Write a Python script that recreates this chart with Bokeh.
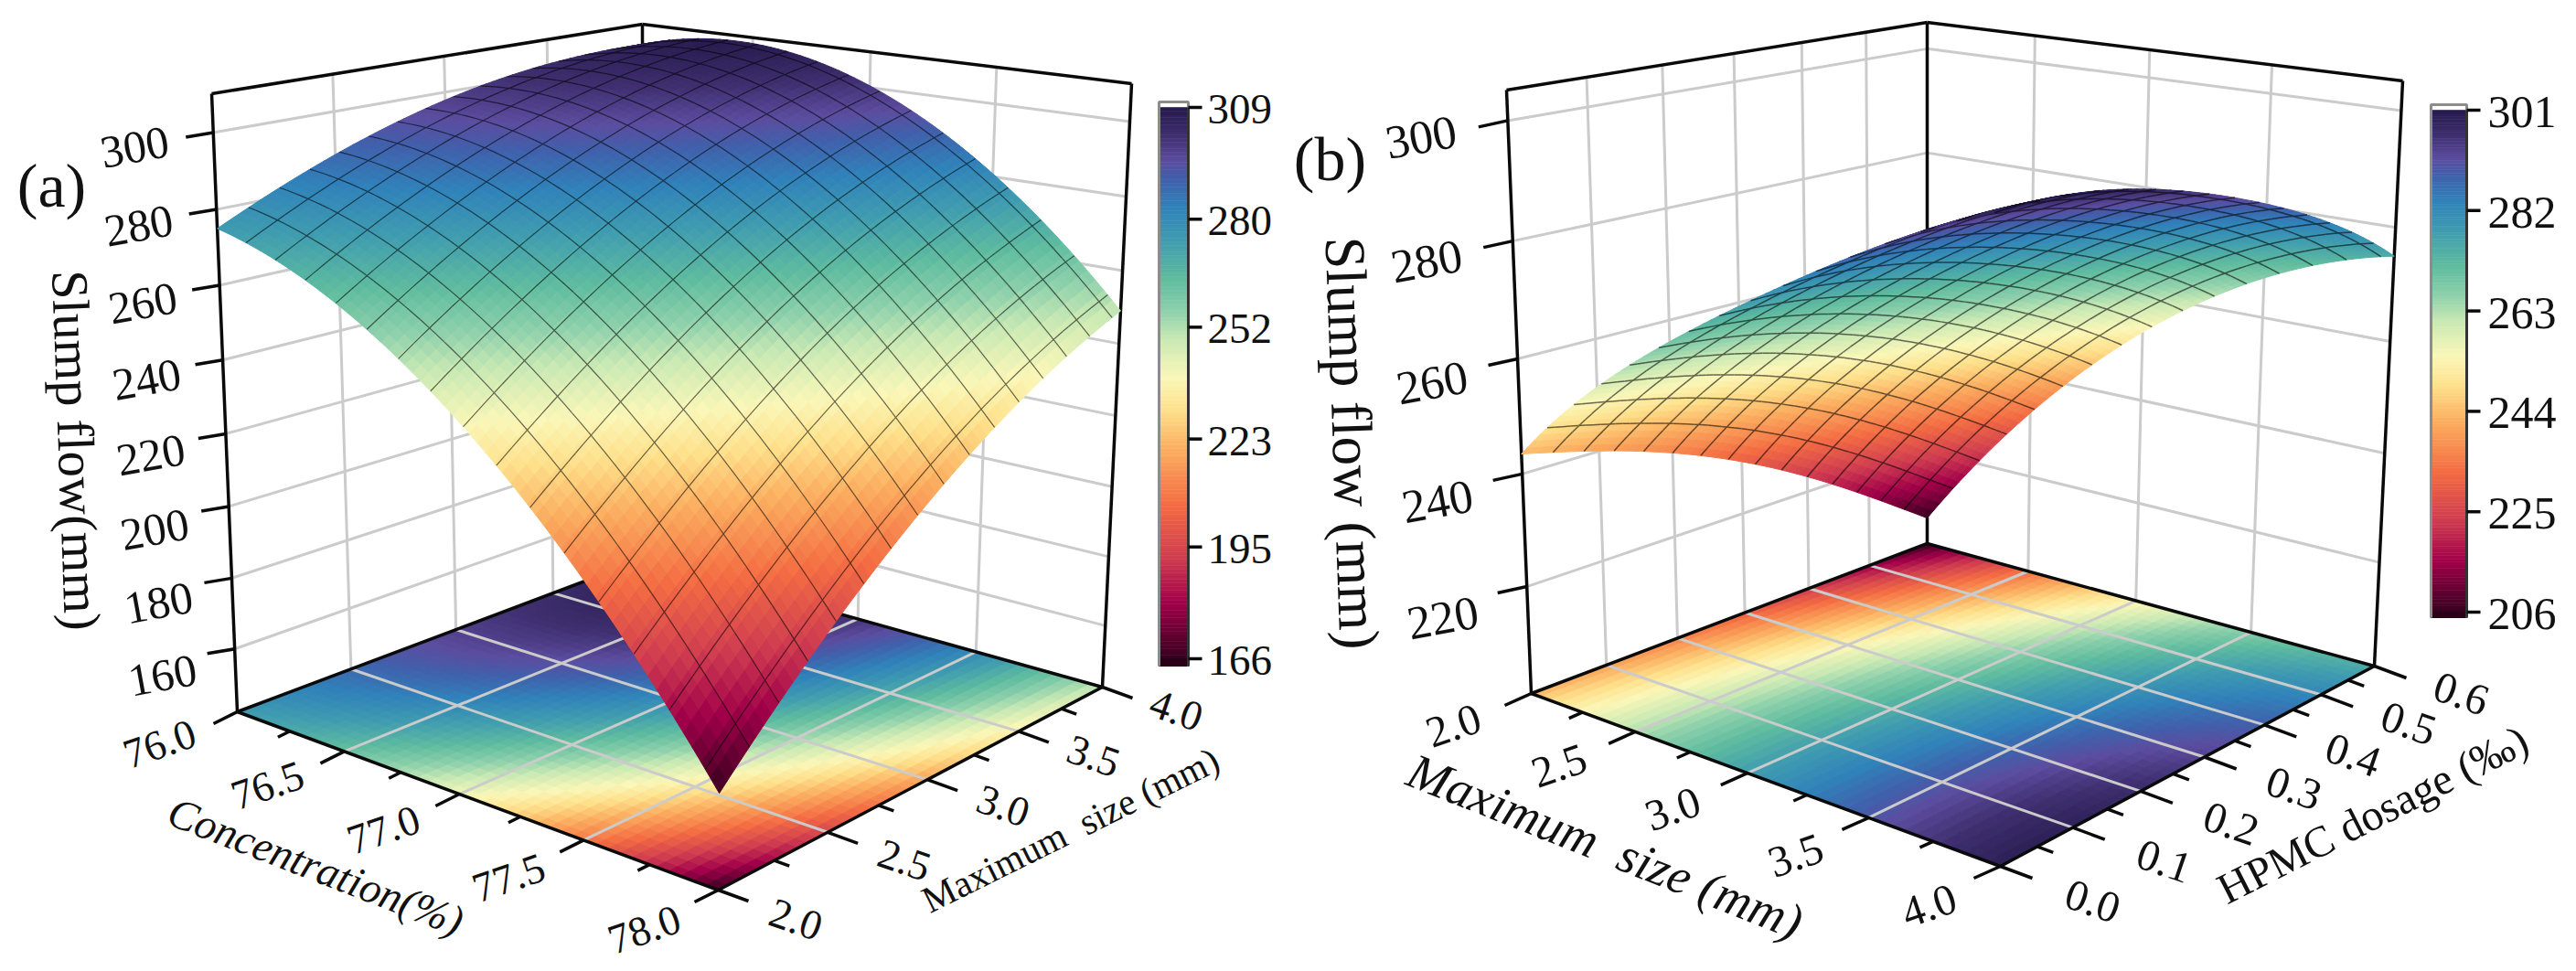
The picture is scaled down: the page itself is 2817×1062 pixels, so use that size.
import numpy as np
from bokeh.plotting import figure
from bokeh.models import Range1d
from bokeh.core.properties import value
from bokeh.embed import file_html
from bokeh.resources import INLINE

# ---------- data ----------
a_conc_ticks = ["76.0", "76.5", "77.0", "77.5", "78.0"]
a_size_ticks = ["2.0", "2.5", "3.0", "3.5", "4.0"]
a_z_ticks = [160, 180, 200, 220, 240, 260, 280, 300]
a_cbar_ticks = [166, 195, 223, 252, 280, 309]
# rows: concentration 76.0 .. 78.0, columns: maximum size 2.0 .. 4.0
a_slump = [
    [275.0, 288.4, 297.8, 302.9, 304.0],
    [262.8, 280.7, 294.3, 303.5, 308.3],
    [240.5, 262.5, 279.9, 292.5, 300.5],
    [208.3, 233.8, 254.5, 270.0, 280.8],
    [166.0, 194.6, 218.0, 236.1, 249.0],
]
b_size_ticks = ["2.0", "2.5", "3.0", "3.5", "4.0"]
b_hpmc_ticks = ["0.0", "0.1", "0.2", "0.3", "0.4", "0.5", "0.6"]
b_z_ticks = [220, 240, 260, 280, 300]
b_cbar_ticks = [206, 225, 244, 263, 282, 301]
# rows: maximum size 2.0 .. 4.0, columns: HPMC 0.0 .. 0.6
b_slump = [
    [243.5, 238.0, 230.0, 219.0, 206.0],
    [263.0, 259.6, 253.4, 244.2, 232.7],
    [277.5, 275.9, 271.0, 263.4, 253.0],
    [290.0, 289.1, 284.6, 277.5, 267.2],
    [299.5, 298.5, 293.5, 286.0, 275.0],
]
cmap_pos = [0, .05, .10, .18, .28, .38, .45, .51, .58, .63, .69, .76, .82, .87, .905, .95, 1]
cmap_hex = ["#35001f", "#6b0034", "#a00049", "#ce3b50", "#f46d43", "#fbae60", "#fee08b", "#faf7b8",
            "#c9e9b4", "#8fd1ac", "#5fbc9f", "#3f9cb0", "#3082ba", "#4060ab", "#5c4c9f", "#3f2f70", "#261a4d"]

SERIF = value("Liberation Serif")
GRID = "#cbcbcb"
rgb = np.array([[int(h[i:i + 2], 16) for i in (1, 3, 5)] for h in cmap_hex], float)


def colour(f, k=1.0):
    f = np.clip(f, 0, 1)
    return "#%02x%02x%02x" % tuple(int(round(np.interp(f, cmap_pos, rgb[:, c]) * k)) for c in range(3))


p = figure(width=2809, height=1054, x_range=Range1d(0, 2809), y_range=Range1d(1054, 0),
           output_backend="svg", toolbar_location=None,
           x_axis_location=None, y_axis_location=None, min_border=0)
p.grid.visible = False
p.outline_line_color = None
p.background_fill_color = "white"
p.border_fill_color = "white"


def txt(x, y, s, size, angle=0.0, style="normal", align="center"):
    p.text(x=[x], y=[y], text=[s], angle=[angle], text_font=SERIF, text_font_size=value(f"{size}px"),
           text_font_style=style, text_align=align, text_baseline="middle", text_color="#111111")


def meet(a, b, c, d):
    a, b, c, d = [np.array(q, float) for q in (a, b, c, d)]
    r, s = b - a, d - c
    t = ((c[0] - a[0]) * s[1] - (c[1] - a[1]) * s[0]) / (r[0] * s[1] - r[1] * s[0])
    return a + t * r


def panel(corners, zlo, zhi, table, vmin, vmax, z_ticks, u_labels, v_labels, v_major, v_minor,
          u_step, v_step, mesh_w, off, z_size, lab_size, u_ang, v_ang, z_ang):
    L0, L1, B0, B1, R0, R1, F0 = [np.array(c, float) for c in corners]
    vp_v = meet(L0, B0, L1, B1)
    vp_u = meet(B0, R0, B1, R1)
    F1 = meet(L1, vp_u, R1, vp_v)
    K = 1.06

    def pr(u, v, z):
        u, v, z = np.asarray(u, float), np.asarray(v, float), np.asarray(z, float)
        w = (z - zlo) / (zhi - zlo)
        t = w / (w + K * (1 - w))
        x0, y0 = L0[0] + (L1 - L0)[0] * t, L0[1] + (L1 - L0)[1] * t
        x1, y1 = F0[0] + (F1 - F0)[0] * t, F0[1] + (F1 - F0)[1] * t
        x2, y2 = R0[0] + (R1 - R0)[0] * t, R0[1] + (R1 - R0)[1] * t
        x3, y3 = B0[0] + (B1 - B0)[0] * t, B0[1] + (B1 - B0)[1] * t
        dx1, dx2, sx = x1 - x2, x3 - x2, x0 - x1 + x2 - x3
        dy1, dy2, sy = y1 - y2, y3 - y2, y0 - y1 + y2 - y3
        den = dx1 * dy2 - dx2 * dy1
        g = (sx * dy2 - dx2 * sy) / den
        h = (dx1 * sy - sx * dy1) / den
        d = g * u + h * v + 1
        return (((x1 - x0 + g * x1) * u + (x3 - x0 + h * x3) * v + x0) / d,
                ((y1 - y0 + g * y1) * u + (y3 - y0 + h * y3) * v + y0) / d)

    T = np.array(table, float)
    nodes = np.linspace(0, 1, T.shape[0])
    Vi = np.linalg.inv(np.vander(nodes, len(nodes)))
    C = Vi @ T @ Vi.T  # tensor polynomial through the table

    def zf(u, v):
        uu = np.vander(np.atleast_1d(u), len(nodes))
        vv = np.vander(np.atleast_1d(v), len(nodes))
        return np.einsum("ij,jk,ik->i", uu, C, vv)

    frac = lambda z: (z - vmin) / (vmax - vmin)

    def seg(p1, p2):
        x, y = pr(*zip(p1, p2))
        return list(x), list(y)

    def lines(segs, color, width):
        xs, ys = zip(*[seg(a, c) for a, c in segs])
        p.multi_line(list(xs), list(ys), line_color=color, line_width=width)

    # walls
    wall = []
    for z in z_ticks:
        wall += [((0, 0, z), (0, 1, z)), ((0, 1, z), (1, 1, z))]
    for v in v_major[1:-1]:
        wall.append(((0, v, zlo), (0, v, zhi)))
    for u in (.25, .5, .75):
        wall.append(((u, 1, zlo), (u, 1, zhi)))
    lines(wall, GRID, 3)
    frame = [((0, 0, zhi), (0, 1, zhi)), ((0, 1, zhi), (1, 1, zhi)), ((0, 0, zlo), (0, 0, zhi)),
             ((0, 1, zlo), (0, 1, zhi)), ((1, 1, zlo), (1, 1, zhi))]
    lines(frame, "#0a0a0a", 3.5)

    # floor
    N = 44
    g = np.linspace(0, 1, N + 1)
    xs, ys, cs = [], [], []
    for i in range(N):
        for j in range(N):
            uu = [g[i], g[i + 1], g[i + 1], g[i]]
            vv = [g[j], g[j], g[j + 1], g[j + 1]]
            x, y = pr(uu, vv, [zlo] * 4)
            xs.append(x.tolist()); ys.append(y.tolist())
            cs.append(colour(frac(zf(np.mean(uu), np.mean(vv))[0])))
    p.patches(xs, ys, fill_color=cs, line_color=cs, line_width=1)
    fl = [((u, 0, zlo), (u, 1, zlo)) for u in (.25, .5, .75)] + [((0, v, zlo), (1, v, zlo)) for v in v_major[1:-1]]
    lines(fl, GRID, 3)
    lines([((0, 0, zlo), (1, 0, zlo)), ((1, 0, zlo), (1, 1, zlo)), ((0, 0, zlo), (0, 1, zlo)), ((0, 1, zlo), (1, 1, zlo))],
          "#0a0a0a", 3.5)

    # surface: cells and mesh drawn far to near, so that folds hide what lies behind them
    N = 62
    g = np.linspace(0, 1, N + 1)
    items = []
    for i in range(N):
        for j in range(N):
            uu = np.array([g[i], g[i + 1], g[i + 1], g[i]])
            vv = np.array([g[j], g[j], g[j + 1], g[j + 1]])
            x, y = pr(uu, vv, zf(uu, vv))
            c = colour(frac(zf(uu.mean(), vv.mean())[0]))
            items.append((uu.mean() - vv.mean(), x.tolist(), y.tolist(), c, 1.0, 1))
    eps = 2.2 / N
    for fix, step in (("u", u_step), ("v", v_step)):
        for pos in np.arange(step, 1 - 1e-6, step):
            for j in range(N):
                if fix == "u":
                    uu, vv = np.array([pos, pos]), g[j:j + 2]
                else:
                    uu, vv = g[j:j + 2], np.array([pos, pos])
                zz = zf(uu, vv)
                x, y = pr(uu, vv, zz)
                c = colour(frac(zz.mean()), .42)
                items.append((uu.mean() - vv.mean() + eps, x.tolist(), y.tolist(), c, 0.0, mesh_w))
    items.sort(key=lambda t: t[0])
    p.patches([t[1] for t in items], [t[2] for t in items],
              fill_color=[t[3] for t in items], line_color=[t[3] for t in items],
              fill_alpha=[t[4] for t in items], line_width=[t[5] for t in items])

    # ticks and their labels are placed at fixed screen offsets from the projected axis positions
    tx, ty = [], []

    def tick(u, v, z, d):
        x, y = pr(u, v, z)
        tx.append([float(x), float(x) + d[0]]); ty.append([float(y), float(y) + d[1]])

    for z in z_ticks:
        tick(0, 0, z, off["z_tick"])
    for i in range(9):
        u = i / 8
        s = 1 if i % 2 == 0 else .5
        tick(u, 0, zlo, (off["u_tick"][0] * s, off["u_tick"][1] * s))
    for v in v_major:
        tick(1, v, zlo, off["v_tick"])
    for v in v_minor:
        tick(1, v, zlo, (off["v_tick"][0] * .5, off["v_tick"][1] * .5))
    p.multi_line(tx, ty, line_color="#0a0a0a", line_width=3.5)

    for z in z_ticks:
        x, y = pr(0, 0, z)
        f = (z - z_ticks[0]) / (z_ticks[-1] - z_ticks[0])
        d = np.array(off["z_lo"]) + (np.array(off["z_hi"]) - np.array(off["z_lo"])) * f
        txt(float(x) + d[0], float(y) + d[1], str(z), z_size, angle=z_ang)
    for i, s in enumerate(u_labels):
        x, y = pr(i / 4, 0, zlo)
        d = np.array(off["u0"]) + (np.array(off["u1"]) - np.array(off["u0"])) * i / 4
        txt(float(x) + d[0], float(y) + d[1], s, lab_size, angle=u_ang)
    for v, s in zip(v_major, v_labels):
        x, y = pr(1, v, zlo)
        d = np.array(off["v0"]) + (np.array(off["v1"]) - np.array(off["v0"])) * v
        txt(float(x) + d[0], float(y) + d[1], s, lab_size, angle=v_ang)


def cbar(x0, x1, y_top, y_bot, bar_top, bar_bot, ticks, size, lab_x):
    vmin, vmax = ticks[0], ticks[-1]
    n = 160
    f = np.linspace(0, 1, n + 1)
    ys = y_bot + (y_top - y_bot) * f
    cs = [colour((f[i] + f[i + 1]) / 2) for i in range(n)]
    p.quad(left=x0, right=x1, top=ys[1:], bottom=ys[:-1], fill_color=cs, line_color=cs, line_width=0.6)
    p.quad(left=x0, right=x1, top=y_bot, bottom=bar_bot, fill_color="#2a0018", line_color="#2a0018")
    p.line([x0, x0, x1, x1], [bar_bot, bar_top, bar_top, bar_bot], line_color="#8c8c8c", line_width=3)
    p.line([x1, x1], [bar_bot, y_top], line_color="#333333", line_width=3)
    for t in ticks:
        y = y_bot + (y_top - y_bot) * (t - vmin) / (vmax - vmin)
        p.line([x1, x1 + 15], [y, y], line_color="#0a0a0a", line_width=3.5)
        txt(lab_x, y + 2, str(t), size, align="left")


# ---------- panel (a) ----------
panel(corners=[(259, 778), (231, 102), (703, 611), (702, 26), (1205, 751), (1237, 91), (785, 973)],
      zlo=142, zhi=310, table=a_slump, vmin=166, vmax=309, z_ticks=a_z_ticks,
      u_labels=a_conc_ticks, v_labels=a_size_ticks,
      v_major=[0, .25, .5, .75, 1], v_minor=[.125, .375, .625, .875],
      u_step=.065, v_step=.065, mesh_w=1.2,
      off=dict(z_tick=(-30, 5), z_lo=(-79, 29), z_hi=(-86, 16), u_tick=(-26, 13), v_tick=(33, 12),
               u0=(-85, 35), u1=(-81, 43), v0=(85, 32), v1=(81, 25)),
      z_size=50, lab_size=46, u_ang=0.33, v_ang=-0.33, z_ang=0.18)
cbar(1267, 1299, 117, 720, 111, 728, a_cbar_ticks, 47, 1320)
txt(56, 202, "(a)", 68)
txt(83, 492, "Slump flow(mm)", 57, angle=-1.535)
txt(345, 947, "Concentration(%)", 47, angle=-0.37, style="italic")
txt(1170, 907, "Maximum\u00a0 size (mm)", 41, angle=0.46)

# ---------- panel (b) ----------
panel(corners=[(1674, 758), (1647, 98), (2107, 594), (2107, 24), (2596, 728), (2627, 88), (2187, 947)],
      zlo=200.6, zhi=305, table=b_slump, vmin=206, vmax=301, z_ticks=b_z_ticks,
      u_labels=b_size_ticks, v_labels=b_hpmc_ticks,
      v_major=[i / 6 for i in range(7)], v_minor=[(2 * i + 1) / 12 for i in range(6)],
      u_step=.065, v_step=1 / 15, mesh_w=1.5,
      off=dict(z_tick=(-32, 7), z_lo=(-92, 34), z_hi=(-95, 18), u_tick=(-29, 13), v_tick=(35, 13),
               u0=(-85, 35), u1=(-78, 43), v0=(101, 38), v1=(95, 30)),
      z_size=52, lab_size=48, u_ang=0.33, v_ang=-0.33, z_ang=0.18)
cbar(2658, 2697, 120, 669, 114, 675, b_cbar_ticks, 50, 2720)
txt(1454, 173, "(b)", 68)
txt(1478, 484, "Slump flow (mm)", 63, angle=-1.535)
txt(1755, 925, "Maximum\u00a0 size (mm)", 55, angle=-0.38, style="italic")
txt(2594, 890, "HPMC dosage (‰)", 48, angle=0.47)

open("out.html", "w").write(file_html(p, INLINE))
